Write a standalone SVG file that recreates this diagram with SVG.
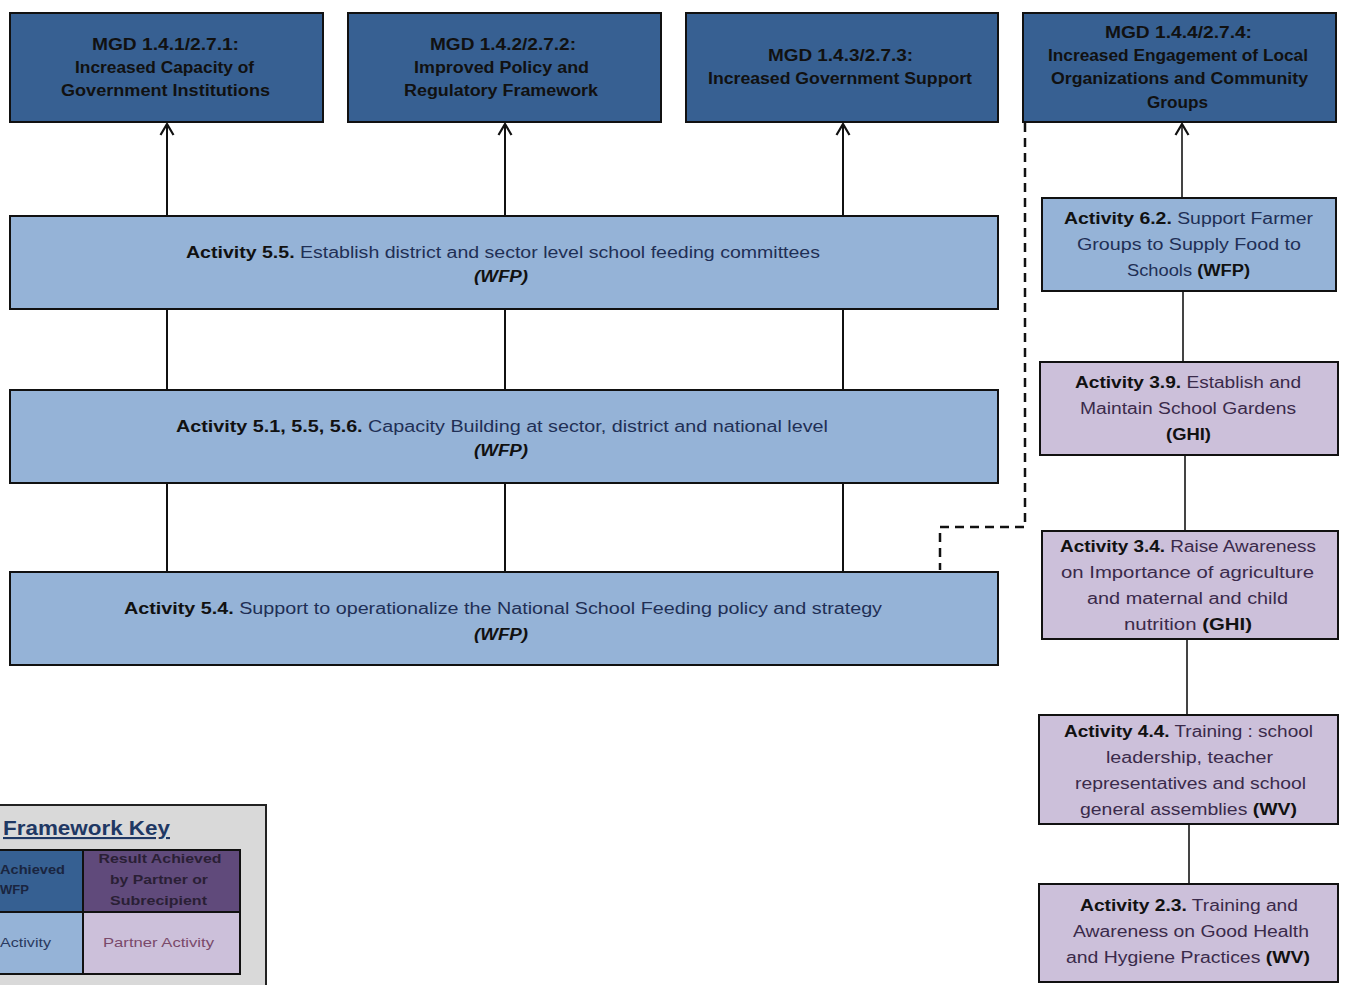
<svg xmlns="http://www.w3.org/2000/svg" width="1349" height="985" viewBox="0 0 1349 985">
<style>
.mgd{fill:#376092;stroke:#111;stroke-width:2}
.act{fill:#95b3d7;stroke:#111;stroke-width:2}
.par{fill:#ccc0da;stroke:#111;stroke-width:2}
text{font-family:"Liberation Sans",Arial,sans-serif;text-anchor:middle}
.t{font-size:16px;font-weight:bold;fill:#111}
.a{font-size:16px;fill:#1f2f55}
.p{font-size:16px;fill:#3a2a4a}
.b{font-weight:bold;fill:#111}
.bi{font-weight:bold;font-style:italic;fill:#111}
.ln{stroke:#111;stroke-width:2;fill:none}
.ln2{stroke:#444;stroke-width:2;fill:none}
.dash{stroke:#111;stroke-width:2.5;fill:none;stroke-dasharray:9 6}
.k{font-size:13px;font-weight:bold;fill:#2a1f35}
</style>
<defs>
<marker id="arr" viewBox="0 0 14 16" refX="13" refY="8" markerWidth="14" markerHeight="16" markerUnits="userSpaceOnUse" orient="auto">
<polyline points="2,1.5 13,8 2,14.5" fill="none" stroke="#111" stroke-width="2.2"/>
</marker>
</defs>
<rect width="1349" height="985" fill="#fff"/>

<g id="connectors">
<line class="ln" x1="167" y1="215" x2="167" y2="124" marker-end="url(#arr)"/>
<line class="ln" x1="505" y1="215" x2="505" y2="124" marker-end="url(#arr)"/>
<line class="ln" x1="843" y1="215" x2="843" y2="124" marker-end="url(#arr)"/>
<line class="ln2" x1="1182" y1="197" x2="1182" y2="124" marker-end="url(#arr)"/>
<line class="ln" x1="167" y1="310" x2="167" y2="390"/>
<line class="ln" x1="505" y1="310" x2="505" y2="390"/>
<line class="ln" x1="843" y1="310" x2="843" y2="390"/>
<line class="ln" x1="167" y1="484" x2="167" y2="572"/>
<line class="ln" x1="505" y1="484" x2="505" y2="572"/>
<line class="ln" x1="843" y1="484" x2="843" y2="572"/>
<line class="ln2" x1="1183" y1="292" x2="1183" y2="362"/>
<line class="ln2" x1="1185" y1="456" x2="1185" y2="531"/>
<line class="ln2" x1="1187" y1="640" x2="1187" y2="715"/>
<line class="ln2" x1="1189" y1="825" x2="1189" y2="884"/>
<polyline class="dash" points="1025,123 1025,527 940,527 940,570"/>
</g>

<g id="mgd1"><rect class="mgd" x="10" y="13" width="313" height="109"/>
<text class="t" x="165.5" y="50" textLength="147" lengthAdjust="spacingAndGlyphs">MGD 1.4.1/2.7.1:</text>
<text class="t" x="164.5" y="73" textLength="179" lengthAdjust="spacingAndGlyphs">Increased Capacity of</text>
<text class="t" x="165.5" y="96" textLength="209" lengthAdjust="spacingAndGlyphs">Government Institutions</text></g>

<g id="mgd2"><rect class="mgd" x="348" y="13" width="313" height="109"/>
<text class="t" x="503" y="50" textLength="146" lengthAdjust="spacingAndGlyphs">MGD 1.4.2/2.7.2:</text>
<text class="t" x="501.5" y="73" textLength="175" lengthAdjust="spacingAndGlyphs">Improved Policy and</text>
<text class="t" x="501" y="96" textLength="194" lengthAdjust="spacingAndGlyphs">Regulatory Framework</text></g>

<g id="mgd3"><rect class="mgd" x="686" y="13" width="312" height="109"/>
<text class="t" x="840.5" y="61" textLength="145" lengthAdjust="spacingAndGlyphs">MGD 1.4.3/2.7.3:</text>
<text class="t" x="840" y="84" textLength="264" lengthAdjust="spacingAndGlyphs">Increased Government Support</text></g>

<g id="mgd4"><rect class="mgd" x="1023" y="13" width="313" height="109"/>
<text class="t" x="1178.5" y="38" textLength="147" lengthAdjust="spacingAndGlyphs">MGD 1.4.4/2.7.4:</text>
<text class="t" x="1178" y="61" textLength="260" lengthAdjust="spacingAndGlyphs">Increased Engagement of Local</text>
<text class="t" x="1179.5" y="84" textLength="257" lengthAdjust="spacingAndGlyphs">Organizations and Community</text>
<text class="t" x="1177.5" y="108" textLength="61" lengthAdjust="spacingAndGlyphs">Groups</text></g>

<g id="act55"><rect class="act" x="10" y="216" width="988" height="93"/>
<text class="a" x="503" y="258" textLength="634" lengthAdjust="spacingAndGlyphs"><tspan class="b">Activity 5.5.</tspan> Establish district and sector level school  feeding committees</text>
<text class="a" x="501" y="282" textLength="54" lengthAdjust="spacingAndGlyphs"><tspan class="bi">(WFP)</tspan></text></g>

<g id="act51"><rect class="act" x="10" y="390" width="988" height="93"/>
<text class="a" x="502" y="432" textLength="652" lengthAdjust="spacingAndGlyphs"><tspan class="b">Activity 5.1, 5.5, 5.6.</tspan> Capacity Building at sector, district and national level</text>
<text class="a" x="501" y="456" textLength="54" lengthAdjust="spacingAndGlyphs"><tspan class="bi">(WFP)</tspan></text></g>

<g id="act54"><rect class="act" x="10" y="572" width="988" height="93"/>
<text class="a" x="503" y="614" textLength="758" lengthAdjust="spacingAndGlyphs"><tspan class="b">Activity 5.4.</tspan> Support to operationalize the National School Feeding policy and strategy</text>
<text class="a" x="501" y="640" textLength="54" lengthAdjust="spacingAndGlyphs"><tspan class="bi">(WFP)</tspan></text></g>

<g id="act62"><rect class="act" x="1042" y="198" width="294" height="93"/>
<text class="a" x="1188.5" y="224" textLength="249" lengthAdjust="spacingAndGlyphs"><tspan class="b">Activity 6.2.</tspan> Support Farmer</text>
<text class="a" x="1189" y="250" textLength="224" lengthAdjust="spacingAndGlyphs">Groups to Supply Food to</text>
<text class="a" x="1188.5" y="276" textLength="123" lengthAdjust="spacingAndGlyphs">Schools <tspan class="b">(WFP)</tspan></text></g>

<g id="act39"><rect class="par" x="1040" y="362" width="298" height="93"/>
<text class="p" x="1188" y="388" textLength="226" lengthAdjust="spacingAndGlyphs"><tspan class="b">Activity 3.9.</tspan> Establish and</text>
<text class="p" x="1188" y="414" textLength="216" lengthAdjust="spacingAndGlyphs">Maintain School Gardens</text>
<text class="p" x="1188.5" y="440" textLength="45" lengthAdjust="spacingAndGlyphs"><tspan class="b">(GHI)</tspan></text></g>

<g id="act34"><rect class="par" x="1042" y="531" width="296" height="108"/>
<text class="p" x="1188" y="552" textLength="256" lengthAdjust="spacingAndGlyphs"><tspan class="b">Activity 3.4.</tspan> Raise Awareness</text>
<text class="p" x="1187.5" y="578" textLength="253" lengthAdjust="spacingAndGlyphs">on Importance of agriculture</text>
<text class="p" x="1187.5" y="604" textLength="201" lengthAdjust="spacingAndGlyphs">and maternal and child</text>
<text class="p" x="1188" y="630" textLength="128" lengthAdjust="spacingAndGlyphs">nutrition <tspan class="b">(GHI)</tspan></text></g>

<g id="act44"><rect class="par" x="1039" y="715" width="299" height="109"/>
<text class="p" x="1188.5" y="737" textLength="249" lengthAdjust="spacingAndGlyphs"><tspan class="b">Activity 4.4.</tspan> Training : school</text>
<text class="p" x="1189.5" y="763" textLength="167" lengthAdjust="spacingAndGlyphs">leadership, teacher</text>
<text class="p" x="1190.5" y="789" textLength="231" lengthAdjust="spacingAndGlyphs">representatives and school</text>
<text class="p" x="1188.5" y="815" textLength="217" lengthAdjust="spacingAndGlyphs">general assemblies <tspan class="b">(WV)</tspan></text></g>

<g id="act23"><rect class="par" x="1039" y="884" width="299" height="98"/>
<text class="p" x="1189" y="911" textLength="218" lengthAdjust="spacingAndGlyphs"><tspan class="b">Activity 2.3.</tspan> Training and</text>
<text class="p" x="1191" y="937" textLength="236" lengthAdjust="spacingAndGlyphs">Awareness on Good Health</text>
<text class="p" x="1188" y="963" textLength="244" lengthAdjust="spacingAndGlyphs">and Hygiene Practices <tspan class="b">(WV)</tspan></text></g>

<g id="key">
<rect x="-10" y="805" width="276" height="200" fill="#d9d9d9" stroke="#222" stroke-width="2"/>
<text x="3" y="835" textLength="167" lengthAdjust="spacingAndGlyphs" style="text-anchor:start;font-size:21px;font-weight:bold;fill:#1f3864;text-decoration:underline">Framework Key</text>
<rect x="-10" y="850" width="93" height="62" fill="#366092" stroke="#111" stroke-width="2"/>
<rect x="83" y="850" width="157" height="62" fill="#604a7b" stroke="#111" stroke-width="2"/>
<rect x="-10" y="912" width="93" height="62" fill="#95b3d7" stroke="#111" stroke-width="2"/>
<rect x="83" y="912" width="157" height="62" fill="#ccc0da" stroke="#111" stroke-width="2"/>
<text class="k" x="0" y="874" textLength="65" lengthAdjust="spacingAndGlyphs" style="text-anchor:start;fill:#1a2540">Achieved</text>
<text class="k" x="0" y="894" style="text-anchor:start;fill:#1a2540">WFP</text>
<text class="k" x="160" y="863" textLength="123" lengthAdjust="spacingAndGlyphs">Result Achieved</text>
<text class="k" x="159" y="884" textLength="98" lengthAdjust="spacingAndGlyphs">by Partner or</text>
<text class="k" x="158.5" y="905" textLength="97" lengthAdjust="spacingAndGlyphs">Subrecipient</text>
<text x="0" y="947" textLength="51" lengthAdjust="spacingAndGlyphs" style="text-anchor:start;font-size:13px;fill:#2a3a60">Activity</text>
<text x="158.5" y="947" textLength="111" lengthAdjust="spacingAndGlyphs" style="font-size:13px;fill:#7a4a6a">Partner Activity</text>
</g>
</svg>
